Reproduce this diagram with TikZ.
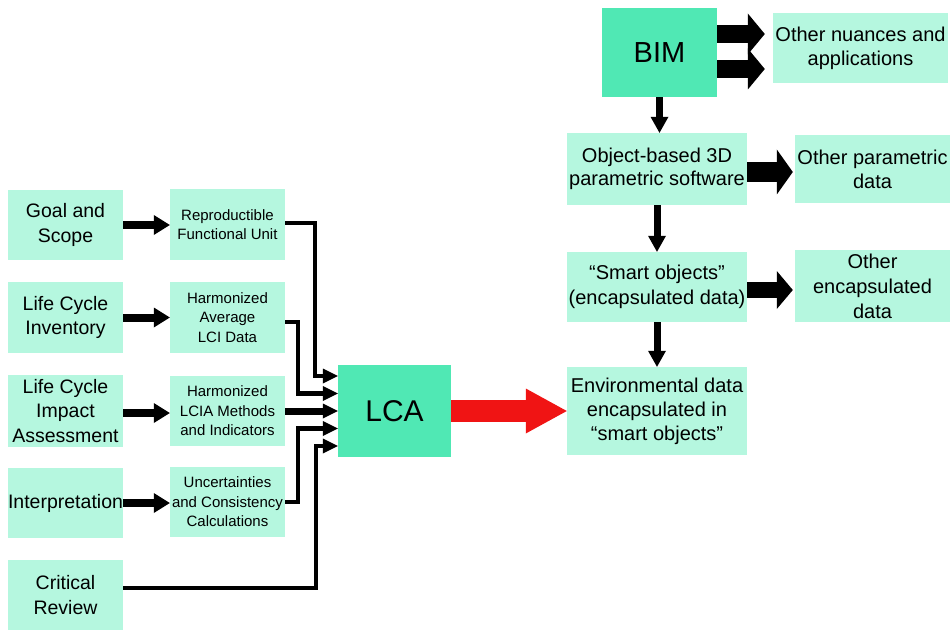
\documentclass[tikz,border=0pt]{standalone}
\usepackage{fontspec}
\setmainfont{Liberation Sans}
\usetikzlibrary{arrows.meta,calc}
\definecolor{lightg}{HTML}{B5F7DF}
\definecolor{darkg}{HTML}{50E8B4}
\definecolor{redar}{HTML}{F01414}
\begin{document}
\begin{tikzpicture}[x=1pt,y=-1pt,
  box/.style={fill=lightg, inner sep=0pt, align=center},
  dbox/.style={fill=darkg, inner sep=0pt, align=center},
  colA/.style={box, minimum width=115pt, minimum height=70pt, font=\fontsize{19.5}{24.5}\selectfont},
  colB/.style={box, minimum width=115pt, minimum height=70pt, font=\fontsize{15}{19.5}\selectfont},
  rbox/.style={box, font=\fontsize{20}{24}\selectfont},
  conn/.style={line width=4.5pt, -{Triangle[length=15pt,width=15pt,line width=0pt]}},
  sarr/.style={line width=8pt, -{Triangle[length=16pt,width=20pt,line width=0pt]}},
  varr/.style={line width=7pt, -{Triangle[length=16pt,width=18pt,line width=0pt]}}
]
\useasboundingbox (0,0) rectangle (950,631);

% left column
\node[colA] (goal)   at (65.5,225)   {Goal and\\Scope};
\node[colA, minimum height=71pt] (lci) at (65.5,317.5) {Life Cycle\\Inventory};
\node[colA, minimum height=72pt] (lcia) at (65.5,411) {Life Cycle\\Impact\\Assessment};
\node[colA] (interp) at (65.5,503)   {Interpretation};
\node[colA] (crit)   at (65.5,595)   {Critical\\Review};

% second column
\node[colB, minimum height=71pt] (rfu) at (227.5,224.5) {Reproductible\\Functional Unit};
\node[colB, minimum height=71pt] (hal) at (227.5,317.5) {Harmonized\\Average\\LCI Data};
\node[colB] (hlm) at (227.5,411) {Harmonized\\LCIA Methods\\and Indicators};
\node[colB] (unc) at (227.5,502) {Uncertainties\\and Consistency\\Calculations};

% LCA
\node[dbox, minimum width=113pt, minimum height=92pt, font=\fontsize{30}{34}\selectfont] (LCA) at (394.5,411) {LCA};

% right column
\node[dbox, minimum width=115pt, minimum height=89pt, font=\fontsize{29}{33}\selectfont] (BIM) at (659.5,52.5) {BIM};
\node[rbox, minimum width=175pt, minimum height=70pt] (onu) at (860.5,48) {Other nuances and\\applications};
\node[rbox, minimum width=180pt, minimum height=72pt, font=\fontsize{20}{22.5}\selectfont] (obj) at (657,169) {Object-based 3D\\parametric software};
\node[rbox, minimum width=155pt, minimum height=68pt] (opar) at (872.5,169) {Other parametric\\data};
\node[rbox, minimum width=180pt, minimum height=70pt, font=\fontsize{20}{25}\selectfont] (smart) at (657,287) {“Smart objects”\\(encapsulated data)};
\node[rbox, minimum width=155pt, minimum height=72pt, font=\fontsize{20}{25}\selectfont] (oenc) at (872.5,286) {Other\\encapsulated\\data};
\node[rbox, minimum width=180pt, minimum height=88pt, font=\fontsize{20}{24}\selectfont] (env) at (657,411) {Environmental data\\encapsulated in\\“smart objects”};

% column 1 -> column 2
\draw[sarr] (goal.east) -- (goal.east -| rfu.west);
\draw[sarr] (lci.east) -- (lci.east -| hal.west);
\draw[sarr] ([yshift=-2pt]lcia.east) -- ([yshift=-2pt]lcia.east -| hlm.west);
\draw[sarr] (interp.east) -- (interp.east -| unc.west);

% column 2 -> LCA
\coordinate (l1) at ($(LCA.west)+(0,-35)$);
\coordinate (l2) at ($(LCA.west)+(0,-17.5)$);
\coordinate (l4) at ($(LCA.west)+(0,17.5)$);
\coordinate (l5) at ($(LCA.west)+(0,35)$);
\draw[conn] ([yshift=1.5pt]rfu.east) -- ++(30,0) |- (l1);
\draw[conn] ([yshift=-4.5pt]hal.east) -- ++(13,0) |- (l2);
\draw[conn, line width=7pt] (hlm.east) -- (LCA.west);
\draw[conn] (unc.east) -- ++(13,0) |- (l4);
\draw[conn] ([yshift=7pt]crit.east) -- ++(193,0) |- (l5);

% LCA -> environmental data
\draw[redar, line width=22pt, -{Triangle[length=41pt,width=45pt,line width=0pt]}] (LCA.east) -- (env.west);

% BIM chain
\draw[varr] (BIM.south) -- (BIM.south |- obj.north);
\draw[varr] (obj.south) -- (smart.north);
\draw[varr] (smart.south) -- (env.north);

% side block arrows
\coordinate (b1) at ([yshift=18.5pt]BIM.east);
\coordinate (b2) at ([yshift=-16.5pt]BIM.east);
\draw[line width=18pt, -{Triangle[length=17pt,width=41pt,line width=0pt]}, shorten >=8pt] (b1) -- (b1 -| onu.west);
\draw[line width=18pt, -{Triangle[length=17pt,width=41pt,line width=0pt]}, shorten >=8pt] (b2) -- (b2 -| onu.west);
\coordinate (o1) at ([yshift=-3pt]obj.east);
\draw[line width=20pt, -{Triangle[length=16pt,width=45pt,line width=0pt]}, shorten >=2pt] (o1) -- (o1 -| opar.west);
\coordinate (s1) at ([yshift=-3pt]smart.east);
\draw[line width=16pt, -{Triangle[length=16pt,width=38pt,line width=0pt]}, shorten >=2pt] (s1) -- (s1 -| oenc.west);
\end{tikzpicture}
\end{document}
